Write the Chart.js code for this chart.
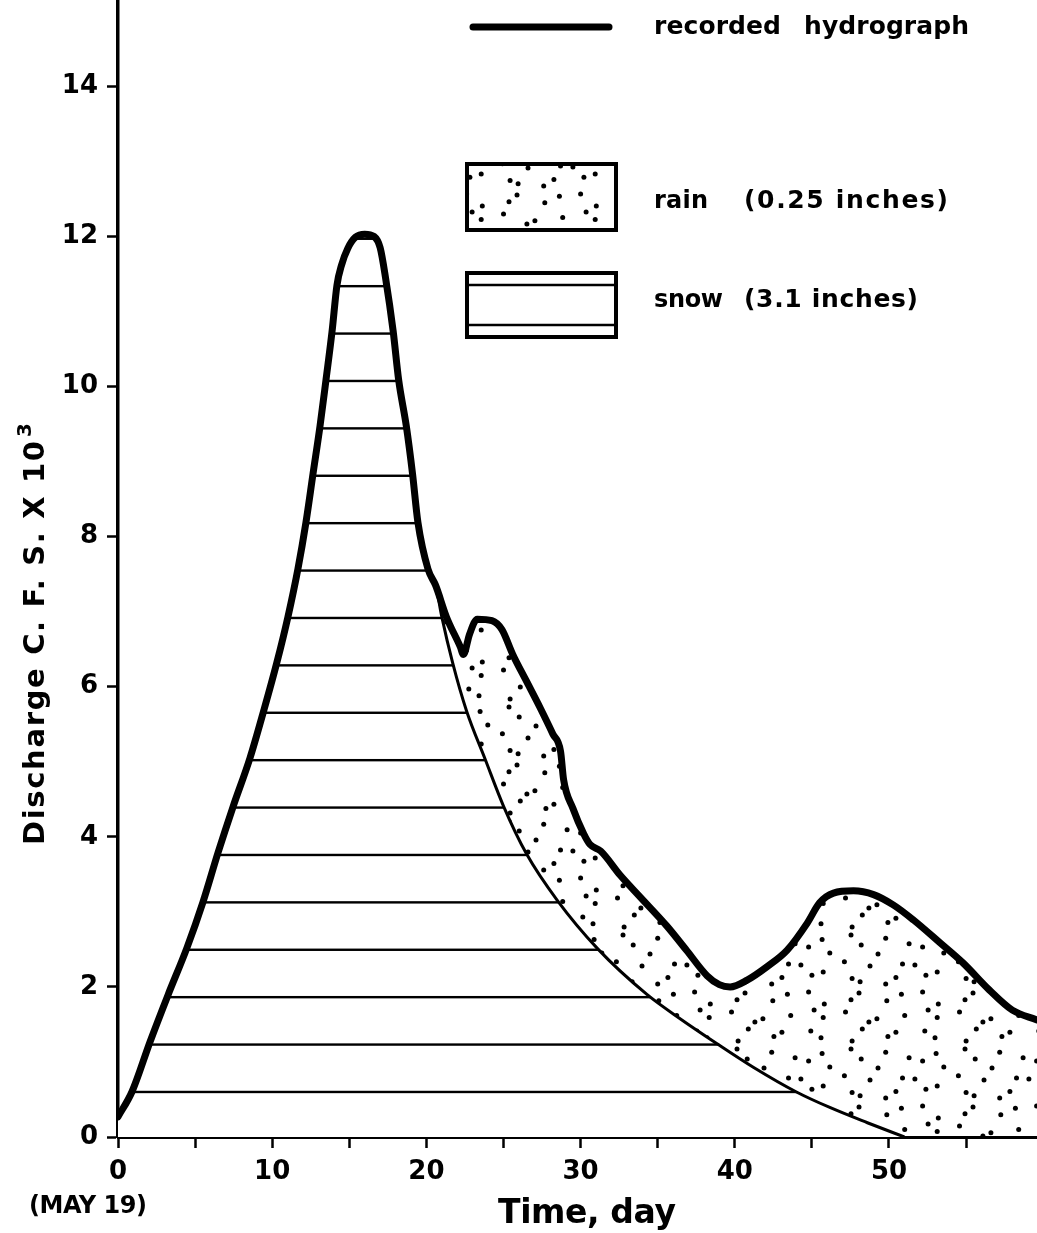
<!DOCTYPE html>
<html>
<head>
<meta charset="utf-8">
<script src="https://cdn.jsdelivr.net/npm/chart.js@4.4.1/dist/chart.umd.min.js"></script>
<style>
  html, body { margin: 0; padding: 0; background: #fff; }
  canvas { display: block; }
</style>
</head>
<body>
<canvas id="c" width="1037" height="1233"></canvas>
<script>
// ---- data ----
const recDay = [0, 0.9, 2.08, 3.24, 4.47, 5.51, 6.49, 7.46, 8.56, 9.45, 10.3, 11.02, 11.67, 12.19, 12.65, 13.1, 13.49, 13.88, 14.2, 14.5, 14.9, 15.4, 16.0, 16.6, 17.0, 17.35, 17.85, 18.2, 18.7, 19.1, 19.45, 20.1, 20.6, 21.3, 22.2, 22.4, 22.8, 23.3, 24.25, 24.9, 25.6, 26.5, 27.4, 28.2, 28.7, 28.9, 29.5, 30.2, 30.6, 31.3, 32.6, 33.9, 35.6, 36.9, 38.2, 39.0, 39.7, 40.8, 42.1, 43.4, 44.7, 45.5, 46.4, 47.7, 49.0, 50.3, 51.6, 53.3, 54.8, 56.5, 58.0, 59.6];
const recQ   = [0.27, 0.6, 1.27, 1.89, 2.52, 3.13, 3.79, 4.4, 5.05, 5.68, 6.32, 6.93, 7.57, 8.19, 8.84, 9.47, 10.09, 10.73, 11.35, 11.62, 11.84, 11.99, 12.03, 12.0, 11.85, 11.45, 10.73, 10.09, 9.47, 8.84, 8.19, 7.57, 7.35, 6.93, 6.53, 6.43, 6.7, 6.9, 6.88, 6.76, 6.43, 6.07, 5.71, 5.37, 5.14, 4.76, 4.38, 4.04, 3.9, 3.81, 3.48, 3.19, 2.81, 2.48, 2.15, 2.03, 2.0, 2.09, 2.27, 2.49, 2.85, 3.12, 3.25, 3.28, 3.23, 3.09, 2.89, 2.59, 2.32, 1.96, 1.69, 1.56];
// snowmelt recession (thin line)
const snowDay = [20.6, 21.0, 21.7, 22.6, 23.8, 25.0, 26.5, 28.5, 31.1, 34.3, 36.5, 38.8, 41.2, 44.0, 46.2, 48.6, 51.0];
const snowQ   = [7.35, 6.93, 6.32, 5.68, 5.04, 4.41, 3.77, 3.15, 2.51, 1.9, 1.57, 1.25, 0.93, 0.6, 0.39, 0.19, 0.0];
const xTickLabels = ['0', '10', '20', '30', '40', '50'];
const yTickLabels = ['0', '2', '4', '6', '8', '10', '12', '14'];
const legendLabels = ['recorded hydrograph', 'rain', '(0.25 inches)', 'snow', '(3.1 inches)'];

// ---- built from the arrays ----
const recPts = recDay.map((d, i) => ({ x: d, y: recQ[i] }));
const snowPts = recDay.map((d, i) => ({ x: d, y: recQ[i] })).filter(p => p.x < snowDay[0])
  .concat(snowDay.map((d, i) => ({ x: d, y: snowQ[i] })));

// ---- fill patterns (style) ----
const HATCH_BASE = 0.6, HATCH_STEP = 0.632;
let hatchPat = null;
function makeHatch(chart) {
  const ys = chart.scales.y;
  if (!ys) return null;
  const p0 = ys.getPixelForValue(HATCH_BASE);
  const s = ys.getPixelForValue(0) - ys.getPixelForValue(HATCH_STEP);
  if (!isFinite(s) || !isFinite(p0) || s < 3) return null;
  const n = 10, T = Math.round(s * n), sp = T / n, lw = 2.4;
  const c = document.createElement('canvas');
  c.width = 8; c.height = T;
  const g = c.getContext('2d');
  g.fillStyle = '#fff'; g.fillRect(0, 0, 8, T);
  g.fillStyle = '#000';
  const off = ((p0 % sp) + sp) % sp;
  for (let k = 0; k < n; k++) g.fillRect(0, off + k * sp - lw / 2, 8, lw);
  return chart.ctx.createPattern(c, 'repeat');
}
let dotCache = null;
function dotPattern(ctx) {
  if (dotCache) return dotCache;
  const c = document.createElement('canvas');
  const N = 6, STEP = 19;
  c.width = N * STEP; c.height = N * STEP;
  const g = c.getContext('2d');
  g.fillStyle = '#000';
  const jit = [[3,-4],[-5,2],[6,5],[-2,-6],[4,1],[-6,-3],[1,6],[-4,-1],[5,-5],[-3,4],[2,-2],[6,3],
               [-6,5],[3,-6],[-1,2],[5,6],[-5,-5],[0,4],[4,-3],[-3,-6],[6,0],[-4,3],[2,5],[-6,-1],
               [1,-5],[-2,6],[5,2],[-5,-4],[3,3],[-1,-3],[6,-6],[-3,1],[0,-4],[4,5],[-6,2],[2,-1]];
  for (let j = 0; j < N; j++) {
    for (let i = 0; i < N; i++) {
      const o = jit[j * N + i];
      const x = STEP / 2 + i * STEP + o[0] * 1.1, y = STEP / 2 + j * STEP + o[1] * 1.1;
      g.beginPath(); g.arc(x, y, 2.5, 0, Math.PI * 2); g.fill();
    }
  }
  dotCache = ctx.createPattern(c, 'repeat');
  return dotCache;
}

// ---- text helper ----
const FAM = '"DejaVu Sans"';
function drawText(ctx, s, x, y, size, width) {
  ctx.font = 'bold ' + size + 'px ' + FAM;
  ctx.textAlign = 'left';
  ctx.textBaseline = 'alphabetic';
  if ('letterSpacing' in ctx) ctx.letterSpacing = '0px';
  if (width && 'letterSpacing' in ctx && s.length > 1) {
    const w = ctx.measureText(s).width;
    ctx.letterSpacing = ((width - w) / (s.length - 1)) + 'px';
  }
  ctx.fillText(s, x, y);
  if ('letterSpacing' in ctx) ctx.letterSpacing = '0px';
}

const deco = {
  id: 'deco',
  afterLayout(chart) {
    const p = makeHatch(chart);
    if (p) hatchPat = p;
  },
  afterDraw(chart) {
    const ctx = chart.ctx;
    ctx.save();
    ctx.fillStyle = '#000';
    ctx.strokeStyle = '#000';
    // legend: recorded hydrograph
    ctx.lineWidth = 7; ctx.lineCap = 'round';
    ctx.beginPath(); ctx.moveTo(473, 27); ctx.lineTo(609, 27); ctx.stroke();
    const rh = legendLabels[0].split(' ');
    drawText(ctx, rh[0], 654, 34, 25, 127);
    drawText(ctx, rh[1], 804, 34, 25, 165);
    // legend: rain
    ctx.fillStyle = '#fff';
    ctx.fillRect(467, 164, 149, 66);
    ctx.fillStyle = dotPattern(ctx);
    ctx.fillRect(467, 164, 149, 66);
    ctx.fillStyle = '#000';
    ctx.lineWidth = 4; ctx.lineCap = 'butt';
    ctx.strokeRect(467, 164, 149, 66);
    drawText(ctx, legendLabels[1], 654, 208, 24, 54);
    drawText(ctx, legendLabels[2], 744, 208, 25, 204);
    // legend: snow
    ctx.strokeRect(467, 273, 149, 64);
    ctx.lineWidth = 2.5;
    ctx.beginPath();
    ctx.moveTo(467, 285); ctx.lineTo(616, 285);
    ctx.moveTo(467, 325); ctx.lineTo(616, 325);
    ctx.stroke();
    drawText(ctx, legendLabels[3], 654, 307, 24, 69);
    drawText(ctx, legendLabels[4], 744, 307, 25, 174);
    // x axis titles
    drawText(ctx, 'Time, day', 498, 1223, 33, 178);
    drawText(ctx, '(MAY 19)', 29, 1213, 24, 118);
    // y axis title (rotated)
    ctx.save();
    ctx.translate(44, 845);
    ctx.rotate(-Math.PI / 2);
    drawText(ctx, 'Discharge C. F. S. X 10', 0, 0, 29, 404);
    drawText(ctx, '3', 408, -13, 20);
    ctx.restore();
    ctx.restore();
  }
};

Chart.defaults.font.family = FAM;
Chart.defaults.color = '#000';

const tickFont = { family: FAM, weight: 'bold', size: 26 };

new Chart(document.getElementById('c'), {
  type: 'line',
  data: {
    datasets: [
      {
        label: legendLabels[0],
        data: recPts,
        borderColor: '#000',
        borderWidth: 7,
        borderCapStyle: 'round',
        borderJoinStyle: 'round',
        fill: false,
        pointRadius: 0,
        cubicInterpolationMode: 'monotone',
        order: 1
      },
      {
        label: legendLabels[3],
        data: snowPts,
        borderColor: '#000',
        borderWidth: 3,
        backgroundColor: () => hatchPat || '#fff',
        fill: 'origin',
        pointRadius: 0,
        cubicInterpolationMode: 'monotone',
        order: 2
      },
      {
        label: legendLabels[1],
        data: recPts,
        borderColor: 'rgba(0,0,0,0)',
        borderWidth: 1,
        backgroundColor: (c) => dotPattern(c.chart.ctx),
        fill: 'origin',
        pointRadius: 0,
        cubicInterpolationMode: 'monotone',
        order: 3
      }
    ]
  },
  options: {
    responsive: false,
    devicePixelRatio: 1,
    animation: false,
    events: [],
    layout: { padding: 0 },
    plugins: {
      legend: { display: false },
      tooltip: { enabled: false },
      title: { display: false }
    },
    scales: {
      x: {
        type: 'linear',
        min: 0,
        max: 59.6,
        border: { display: true, color: '#000', width: 3 },
        grid: { display: true, drawOnChartArea: false, drawTicks: true, tickLength: 11, tickWidth: 2.5, tickColor: '#000', color: '#000' },
        ticks: {
          stepSize: 5,
          includeBounds: false,
          autoSkip: false,
          maxRotation: 0,
          minRotation: 0,
          padding: 9,
          color: '#000',
          font: tickFont,
          callback: (v) => xTickLabels.includes(String(v)) ? String(v) : ''
        },
        afterFit(s) { s.height = 96; s.paddingLeft = 0; s.paddingRight = 0; }
      },
      y: {
        type: 'linear',
        min: 0,
        max: 15.15,
        border: { display: true, color: '#000', width: 3.5 },
        grid: { display: true, drawOnChartArea: false, drawTicks: true, tickLength: 11, tickWidth: 2.5, tickColor: '#000', color: '#000' },
        ticks: {
          stepSize: 2,
          includeBounds: false,
          autoSkip: false,
          padding: 9,
          color: '#000',
          font: tickFont,
          callback: (v) => yTickLabels.includes(String(v)) ? String(v) : ''
        },
        afterFit(s) { s.width = 118; s.paddingTop = 0; s.paddingBottom = 0; }
      }
    }
  },
  plugins: [deco]
});
</script>
</body>
</html>
